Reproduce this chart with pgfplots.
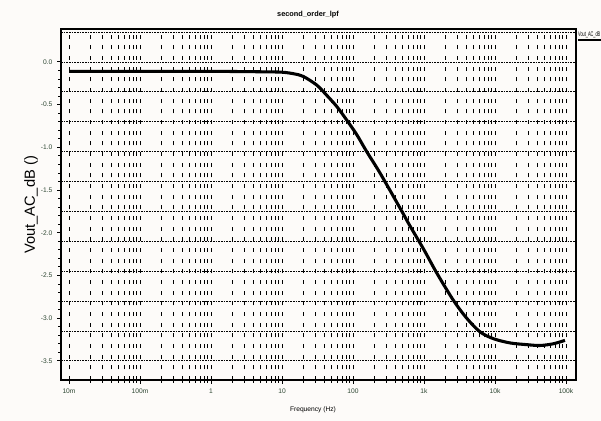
\documentclass[border=0pt]{standalone}
\usepackage{pgfplots}
\pgfplotsset{compat=1.18}
\usepackage{fontspec}
\setmainfont{Liberation Sans}
\definecolor{bgc}{RGB}{253,251,249}
\definecolor{lab}{RGB}{45,70,50}
\begin{document}
\begin{tikzpicture}
\fill[bgc] (0pt,0pt) rectangle (450.75pt,315.75pt);
\useasboundingbox (0pt,0pt) rectangle (450.75pt,315.75pt);
\begin{axis}[
  at={(45.75pt,30.75pt)}, anchor=south west,
  scale only axis, width=386.25pt, height=263.25pt,
  xmode=log, log basis x=10,
  xmin=0.00771, xmax=138400,
  ymin=-3.724, ymax=0.386,
  xtick={0.01,0.1,1,10,100,1000,10000,100000},
  xticklabels={10m,100m,1,10,100,1k,10k,100k},
  minor xtick={0.02,0.03,0.04,0.05,0.06,0.07,0.08,0.09,
    0.2,0.3,0.4,0.5,0.6,0.7,0.8,0.9,
    2,3,4,5,6,7,8,9,
    20,30,40,50,60,70,80,90,
    200,300,400,500,600,700,800,900,
    2000,3000,4000,5000,6000,7000,8000,9000,
    20000,30000,40000,50000,60000,70000,80000,90000},
  ytick={0,-0.5,-1,-1.5,-2,-2.5,-3,-3.5},
  yticklabels={0.0,-0.5,-1.0,-1.5,-2.0,-2.5,-3.0,-3.5},
  minor y tick num=4,
  xmajorgrids, xminorgrids,
  major grid style={black, line width=0.6pt, dash pattern=on 3pt off 5pt},
  minor grid style={black, line width=0.6pt, dash pattern=on 3pt off 5pt},
  extra y ticks={0.35,0,-0.35,-0.7,-1.05,-1.4,-1.75,-2.1,-2.45,-2.8,-3.15,-3.5},
  extra y tick labels={},
  extra y tick style={grid=major, major tick length=0pt,
    major grid style={black, line width=0.6pt, dash pattern=on 1.2pt off 0.8pt}},
  tick align=outside, xtick pos=bottom, ytick pos=left,
  major tick length=3pt, minor tick length=2pt,
  tick style={black, line width=0.7pt},
  axis line style={black, line width=0.9pt},
  tick label style={font=\fontsize{5}{6}\selectfont, text=lab},
  /pgf/number format/assume math mode=true,
  clip=false,
]
\addplot[black, line width=2.3pt, smooth] coordinates {
(0.01,-0.11) (0.1,-0.11) (1,-0.11) (5,-0.115) (10,-0.12) (15,-0.14) (20,-0.17)
(30.8,-0.27) (42.6,-0.39) (58.9,-0.52) (81.5,-0.68) (112.7,-0.85) (156,-1.05)
(240,-1.30) (459,-1.71) (635,-1.92) (1000,-2.20) (1510,-2.47) (2590,-2.79)
(3990,-3.00) (6150,-3.16) (9470,-3.24) (16260,-3.29) (27930,-3.31)
(43050,-3.32) (66230,-3.30) (96900,-3.26)
};
\draw[black, line width=1.6pt] (rel axis cs:0,0) -- (rel axis cs:1,0);
\end{axis}
\begin{scope}[x=0.75pt,y=0.75pt]
\node[font=\fontsize{5.5}{6}\selectfont\bfseries] at (308,406) {second\_order\_lpf};
\node[font=\fontsize{5}{6}\selectfont] at (313,11) {Frequency (Hz)};
\node[font=\fontsize{11}{13}\selectfont, rotate=90] at (31,216) {Vout\_AC\_dB ()};
\node[font=\fontsize{5}{6}\selectfont, anchor=south west, inner sep=0pt, xscale=0.58] at (578,383) {Vout\_AC\_dB};
\draw[black, line width=1.5pt] (578,381) -- (600.5,381);
\end{scope}
\end{tikzpicture}
\end{document}
